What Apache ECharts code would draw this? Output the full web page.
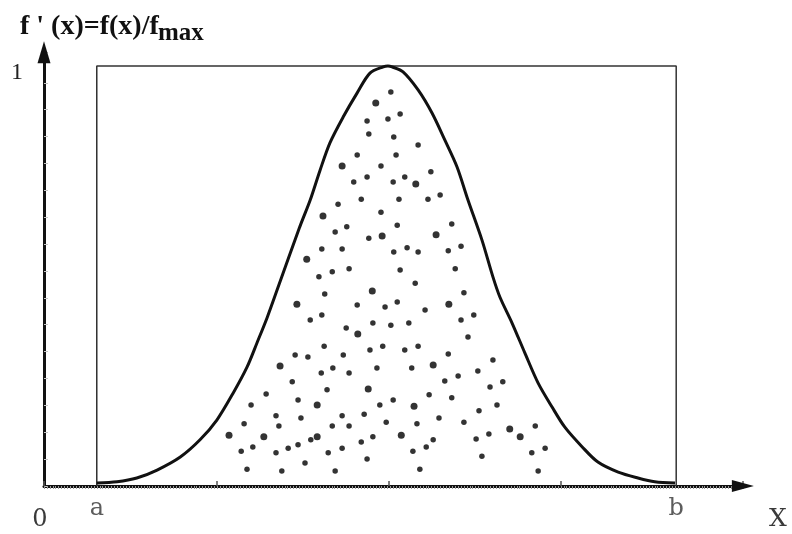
<!DOCTYPE html>
<html lang="en">
  <head>
    <meta charset="UTF-8" />
    <title>f'(x) rejection sampling</title>
    <style>
      body {
        margin: 0;
        background: #fff;
      }
      #chart {
        width: 792px;
        height: 534px;
      }
    </style>
    <script src="https://cdn.jsdelivr.net/npm/echarts@6/dist/echarts.min.js"></script>
  </head>
  <body>
    <div id="chart"></div>

    <script>
      // interval ends a and b
      const A = 0.91;
      const B = 10.9;
      const X_MAX = 12.05;
      const Y_MAX = 1.033;

      // normalised density f'(x)
      const curve = [
        [0.91, 0.007], [1.26, 0.01], [1.6, 0.019], [1.95, 0.038], [2.35, 0.069],
        [2.69, 0.11], [2.98, 0.157], [3.26, 0.221], [3.5, 0.283], [3.67, 0.34],
        [3.85, 0.402], [4.02, 0.467], [4.41, 0.617], [4.59, 0.681],
        [4.76, 0.752], [4.93, 0.817], [5.16, 0.879], [5.4, 0.936], [5.62, 0.983],
        [5.85, 0.998], [5.93, 1.0], [6.0, 0.998], [6.19, 0.986], [6.45, 0.943],
        [6.69, 0.888], [6.91, 0.824], [7.12, 0.76], [7.31, 0.681], [7.55, 0.586],
        [7.74, 0.498], [7.86, 0.45], [8.07, 0.388], [8.29, 0.317], [8.52, 0.245],
        [8.76, 0.188], [8.98, 0.14], [9.28, 0.093], [9.55, 0.057], [9.9, 0.033],
        [10.24, 0.019], [10.53, 0.01], [10.88, 0.007]
      ];

      // the box a..b x 0..1
      const box = [[A, 0], [A, 1], [B, 1], [B, 0]];

      // accepted points under the curve
      const dots = [
        [5.98, 0.938], [5.57, 0.869], [5.93, 0.874], [6.14, 0.886], [5.6, 0.838],
        [6.03, 0.831], [6.45, 0.812], [5.4, 0.788], [6.07, 0.788], [5.81, 0.762],
        [6.67, 0.748], [5.57, 0.736], [6.22, 0.736], [5.34, 0.724], [6.02, 0.724],
        [6.83, 0.693], [5.47, 0.683], [6.12, 0.683], [6.62, 0.683], [5.07, 0.671],
        [5.81, 0.652], [7.03, 0.624], [5.22, 0.617], [6.09, 0.621], [5.02, 0.605],
        [5.6, 0.59], [4.79, 0.564], [5.14, 0.564], [6.26, 0.567], [6.03, 0.557],
        [6.45, 0.557], [6.97, 0.56], [7.19, 0.571], [4.74, 0.498], [4.97, 0.51],
        [5.26, 0.517], [6.14, 0.514], [7.09, 0.517], [6.4, 0.483], [4.84, 0.457],
        [7.24, 0.46], [5.4, 0.431], [5.88, 0.426], [6.09, 0.438], [6.57, 0.419],
        [4.59, 0.395], [4.79, 0.407], [5.67, 0.388], [5.98, 0.383], [6.29, 0.388],
        [7.19, 0.395], [7.41, 0.407], [5.21, 0.376], [7.31, 0.355], [4.83, 0.333],
        [5.84, 0.333], [6.45, 0.333], [4.33, 0.312], [4.55, 0.307], [5.16, 0.312],
        [5.62, 0.324], [6.22, 0.324], [6.97, 0.314], [7.74, 0.3], [4.98, 0.281],
        [4.78, 0.269], [5.26, 0.269], [5.74, 0.281], [6.34, 0.281], [7.48, 0.274],
        [7.14, 0.262], [6.91, 0.25], [7.91, 0.248], [4.28, 0.248], [4.88, 0.229],
        [7.69, 0.236], [3.83, 0.219], [4.38, 0.205], [5.79, 0.193], [6.02, 0.205],
        [6.64, 0.217], [7.03, 0.21], [7.81, 0.193], [3.57, 0.193], [4.0, 0.167],
        [4.43, 0.162], [5.52, 0.171], [5.14, 0.167], [7.5, 0.179], [6.81, 0.162],
        [3.45, 0.148], [4.05, 0.143], [4.97, 0.143], [5.26, 0.143], [5.9, 0.152],
        [6.43, 0.148], [7.24, 0.152], [8.47, 0.143], [4.6, 0.11], [5.67, 0.117],
        [7.67, 0.124], [7.45, 0.112], [6.71, 0.11], [3.6, 0.093], [3.4, 0.083],
        [4.0, 0.079], [4.21, 0.09], [4.38, 0.098], [4.9, 0.079], [5.14, 0.09],
        [5.47, 0.105], [6.59, 0.093], [6.36, 0.083], [8.41, 0.079], [8.64, 0.09],
        [7.55, 0.071], [4.5, 0.055], [5.57, 0.064], [3.5, 0.04], [4.1, 0.036],
        [5.02, 0.036], [6.48, 0.04], [8.52, 0.036]
      ];
      // the few heavier blobs
      const bigDots = [
        [5.72, 0.912], [5.14, 0.762], [6.41, 0.719], [4.81, 0.643], [5.83, 0.595],
        [6.76, 0.598], [4.53, 0.54], [5.66, 0.464], [4.36, 0.433], [6.98, 0.433],
        [5.41, 0.362], [6.71, 0.288], [4.07, 0.286], [5.59, 0.231], [4.71, 0.193],
        [6.38, 0.19], [3.19, 0.121], [3.79, 0.117], [4.71, 0.117], [6.16, 0.121],
        [8.03, 0.136], [8.21, 0.117]
      ];

      const endLabels = [
        { value: [A, 0], name: "a" },
        { value: [B, 0], name: "b" }
      ];

      const serif = "DejaVu Serif";
      const ink = "#111";

      var myChart = echarts.init(document.getElementById("chart"));
      myChart.setOption({
        animation: false,
        grid: {
          left: 44,
          right: 792 - (44 + X_MAX * 58),
          top: 486 - Y_MAX * 420,
          bottom: 48,
          outerBoundsMode: "none"
        },
        xAxis: [
          {
            type: "value",
            min: 0,
            max: X_MAX,
            interval: 2.97,
            axisLine: {
              lineStyle: { color: ink, width: 3 },
              symbol: ["none", "triangle"],
              symbolSize: [12, 22]
            },
            axisTick: {
              inside: true,
              length: 5,
              lineStyle: { color: "#555", width: 1.5 }
            },
            axisLabel: { show: false },
            splitLine: { show: false }
          },
          {
            // comb under the x axis
            type: "value",
            position: "bottom",
            min: 0,
            max: 11.9,
            interval: 0.05,
            axisLine: { show: false },
            axisTick: { length: 3, lineStyle: { color: "#999", width: 1 } },
            axisLabel: { show: false },
            splitLine: { show: false }
          }
        ],
        yAxis: {
          type: "value",
          min: 0,
          max: Y_MAX,
          interval: 0.064,
          axisLine: {
            lineStyle: { color: ink, width: 3 },
            symbol: ["none", "triangle"],
            symbolSize: [13, 22]
          },
          axisTick: {
            inside: true,
            length: 4,
            lineStyle: { color: "#c4c4c4", width: 1 }
          },
          axisLabel: { show: false },
          splitLine: { show: false }
        },
        graphic: [
          {
            type: "text",
            x: 20,
            y: 13,
            style: {
              text: "f ' (x)=f(x)/f",
              font: "bold 28px Liberation Serif",
              fill: ink,
              textVerticalAlign: "top"
            }
          },
          {
            // subscript
            type: "text",
            x: 158,
            y: 21,
            style: {
              text: "max",
              font: "bold 25px Liberation Serif",
              fill: ink,
              textVerticalAlign: "top"
            }
          },
          {
            type: "text",
            x: 17,
            y: 73,
            style: {
              text: "1",
              font: "24px Liberation Serif",
              fill: "#222",
              textAlign: "center",
              textVerticalAlign: "middle"
            }
          },
          {
            type: "text",
            x: 40,
            y: 520,
            style: {
              text: "0",
              font: "24px " + serif,
              fill: "#3a3a3a",
              textAlign: "center",
              textVerticalAlign: "middle"
            }
          },
          {
            type: "text",
            x: 778,
            y: 519,
            style: {
              text: "X",
              font: "25px " + serif,
              fill: "#3a3a3a",
              textAlign: "center",
              textVerticalAlign: "middle"
            }
          }
        ],
        series: [
          {
            name: "box",
            type: "line",
            data: box,
            showSymbol: false,
            lineStyle: { color: "#333", width: 1.5 },
            z: 1
          },
          {
            name: "dots",
            type: "scatter",
            data: dots,
            symbolSize: 5.5,
            itemStyle: { color: "#000" },
            z: 2
          },
          {
            name: "bigDots",
            type: "scatter",
            data: bigDots,
            symbolSize: 7,
            itemStyle: { color: "#000" },
            z: 2
          },
          {
            name: "f'(x)",
            type: "line",
            data: curve,
            smooth: 0.3,
            showSymbol: false,
            lineStyle: { color: ink, width: 3 },
            z: 3
          },
          {
            name: "ends",
            type: "scatter",
            data: endLabels,
            symbolSize: 0,
            clip: false,
            label: {
              show: true,
              position: "inside",
              offset: [0, 23],
              formatter: "{b}",
              fontFamily: serif,
              fontSize: 24,
              color: "#333"
            },
            z: 4
          }
        ]
      });
    </script>
  </body>
</html>
